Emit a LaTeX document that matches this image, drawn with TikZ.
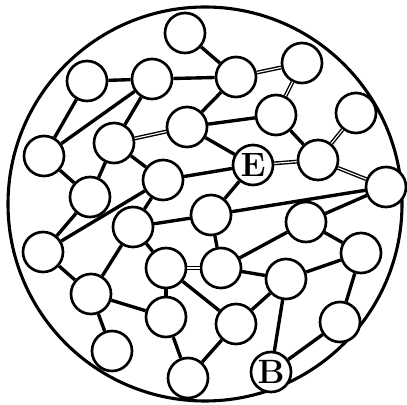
\documentclass[tikz,border=0pt]{standalone}
\usepackage{fontspec}
\begin{document}
\begin{tikzpicture}[x=0.025cm,y=-0.025cm,
    ball/.style={circle,draw,fill=white,line width=1.9pt,minimum size=1cm,inner sep=0pt,font=\fontsize{24}{24}\selectfont\bfseries},
    bond/.style={line width=2.4pt},
    dbond/.style={double,double distance=0.8pt,line width=1pt}]
  \useasboundingbox (0,0) rectangle (407,405);
  \draw[line width=2.2pt] (205,204) circle [radius=197];
  \node[ball] (a1) at (185,33) {};
  \node[ball] (a2) at (87,81) {};
  \node[ball] (a3) at (152,79) {};
  \node[ball] (b1) at (236,77) {};
  \node[ball] (b2) at (302,63) {};
  \node[ball] (b3) at (276,115) {};
  \node[ball] (b4) at (356,113) {};
  \node[ball] (a4) at (187,127) {};
  \node[ball] (a5) at (114,143) {};
  \node[ball] (a6) at (44,156) {};
  \node[ball] (a7) at (163,180) {};
  \node[ball] (e) at (253,165) {E};
  \node[ball] (b5) at (318,160) {};
  \node[ball] (b6) at (386,187) {};
  \node[ball] (a8) at (90,197) {};
  \node[ball] (c2) at (133,227) {};
  \node[ball] (d1) at (211,215) {};
  \node[ball] (c3) at (43,252) {};
  \node[ball] (c4) at (166,268) {};
  \node[ball] (d5) at (221,268) {};
  \node[ball] (d2) at (306,222) {};
  \node[ball] (d4) at (361,253) {};
  \node[ball] (d6) at (286,279) {};
  \node[ball] (c5) at (91,294) {};
  \node[ball] (c6) at (166,317) {};
  \node[ball] (d7) at (236,324) {};
  \node[ball] (d8) at (340,322) {};
  \node[ball] (c7) at (112,351) {};
  \node[ball] (c8) at (188,378) {};
  \node[ball] (b) at (271,372) {B};
  \draw[bond] (a1) -- (b1);
  \draw[bond] (a2) -- (a3);
  \draw[bond] (a3) -- (b1);
  \draw[bond] (a2) -- (a6);
  \draw[bond] (a6) -- (a3);
  \draw[bond] (a3) -- (a5);
  \draw[dbond] (a5) -- (a4);
  \draw[bond] (b1) -- (a4);
  \draw[bond] (a5) -- (a7);
  \draw[bond] (a5) -- (a8);
  \draw[bond] (a6) -- (a8);
  \draw[bond] (a7) -- (e);
  \draw[bond] (a4) -- (e);
  \draw[bond] (a4) -- (b3);
  \draw[dbond] (b1) -- (b2);
  \draw[dbond] (b2) -- (b3);
  \draw[bond] (b3) -- (b5);
  \draw[dbond] (b4) -- (b5);
  \draw[dbond] (e) -- (b5);
  \draw[dbond] (b5) -- (b6);
  \draw[bond] (e) -- (d1);
  \draw[bond] (d1) -- (b6);
  \draw[bond] (a7) -- (c2);
  \draw[bond] (a7) -- (c3);
  \draw[bond] (a8) -- (c3);
  \draw[bond] (c2) -- (c5);
  \draw[bond] (c3) -- (c5);
  \draw[bond] (c2) -- (c4);
  \draw[bond] (c2) -- (d1);
  \draw[dbond] (c4) -- (d5);
  \draw[bond] (c4) -- (d7);
  \draw[bond] (c4) -- (c6);
  \draw[bond] (c5) -- (c6);
  \draw[bond] (c5) -- (c7);
  \draw[bond] (c6) -- (c8);
  \draw[bond] (d1) -- (d5);
  \draw[bond] (d2) -- (b6);
  \draw[bond] (d2) -- (d5);
  \draw[bond] (d2) -- (d4);
  \draw[bond] (d5) -- (d6);
  \draw[bond] (d6) -- (d4);
  \draw[bond] (d6) -- (d7);
  \draw[bond] (d6) -- (b);
  \draw[bond] (d4) -- (d8);
  \draw[bond] (d8) -- (b);
  \draw[bond] (d7) -- (c8);
\end{tikzpicture}
\end{document}
